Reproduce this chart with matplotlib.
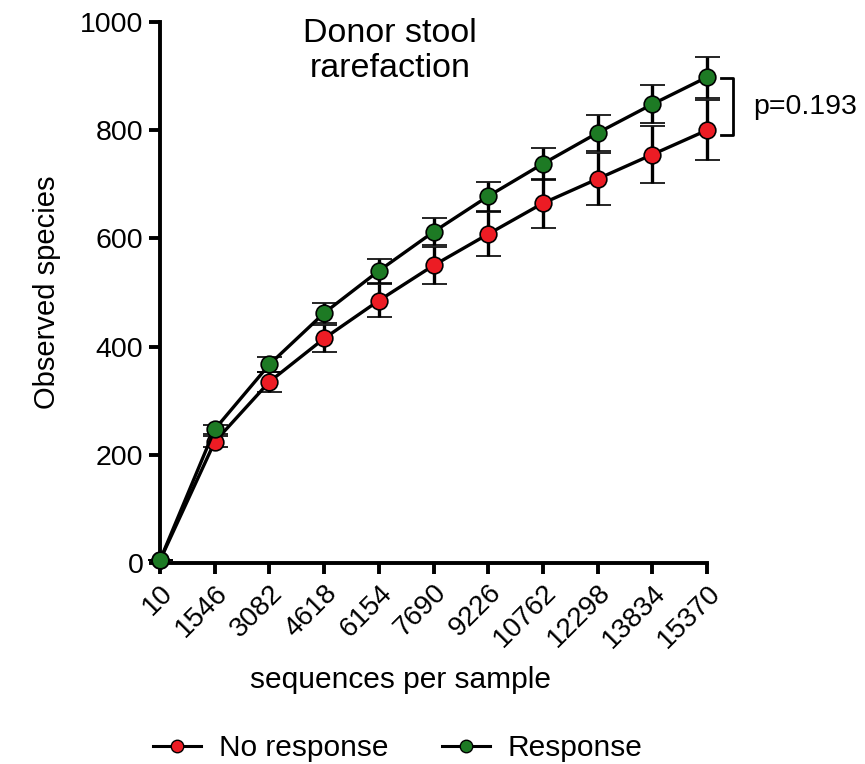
import matplotlib.pyplot as plt
from matplotlib.lines import Line2D

plt.rcParams["font.family"] = ["Liberation Sans", "DejaVu Sans"]

depths = ["10", "1546", "3082", "4618", "6154", "7690", "9226", "10762", "12298", "13834", "15370"]

no_response = [5, 224, 335, 415, 485, 550, 608, 665, 710, 755, 800]
no_response_err = [0, 10, 18, 25, 30, 35, 40, 45, 48, 52, 56]

response = [5, 247, 367, 462, 540, 612, 678, 738, 795, 848, 898]
response_err = [0, 8, 14, 18, 22, 25, 27, 30, 33, 35, 38]

RED = "#ec1c24"
GREEN = "#1d7a24"

fig = plt.figure(figsize=(8.65, 7.64), dpi=100)
ax = fig.add_axes([160 / 865, 1 - 563 / 764, 547 / 865, 541 / 764])

x = list(range(len(depths)))
for vals, errs, color in [(no_response, no_response_err, RED), (response, response_err, GREEN)]:
    ax.errorbar(
        x, vals, yerr=errs, color="black", lw=2.4, elinewidth=2.4, capsize=9, capthick=2.4,
        marker="o", markersize=12, markerfacecolor=color, markeredgecolor="black",
        markeredgewidth=1.2, clip_on=False, zorder=3,
    )

ax.set_xlim(0, 10)
ax.set_ylim(0, 1000)
ax.set_yticks([0, 200, 400, 600, 800, 1000])
ax.set_xticks(x)
ax.set_xticklabels(depths, rotation=45, ha="right", rotation_mode="anchor")

for side in ("top", "right"):
    ax.spines[side].set_visible(False)
for side in ("left", "bottom"):
    ax.spines[side].set_linewidth(2.8)
ax.tick_params(width=2.8, length=8, labelsize=20.5, colors="black", pad=4)
for lbl in ax.get_xticklabels():
    lbl.set_fontsize(20)

ax.set_ylabel("Observed species", fontsize=21, labelpad=14)
ax.text(400 / 865, 1 - 680 / 764, "sequences per sample", transform=fig.transFigure,
        ha="center", va="center", fontsize=21.5)

ax.text(390 / 865, 1 - 18 / 764, "Donor stool\nrarefaction", transform=fig.transFigure,
        ha="center", va="top", fontsize=24.5, linespacing=1.18)

# significance bracket between the two curves at the last depth
ax.plot([10.25, 10.47, 10.47, 10.25], [896, 896, 791, 791], color="black", lw=2, clip_on=False)
ax.text(10.85, 843, "p=0.193", fontsize=20.5, va="center", ha="left", clip_on=False)

handles = [
    Line2D([], [], color="black", lw=2.2, marker="o", markersize=9, markerfacecolor=RED, markeredgecolor="black"),
    Line2D([], [], color="black", lw=2.2, marker="o", markersize=9, markerfacecolor=GREEN, markeredgecolor="black"),
]
fig.legend(handles, ["No response", "Response"], loc="center", bbox_to_anchor=(398 / 865, 1 - 748 / 764),
           ncol=2, frameon=False, fontsize=21.5, handlelength=1.6, columnspacing=1.8, handletextpad=0.6,
           borderpad=0, borderaxespad=0)

fig.savefig("out.png", dpi=100, facecolor="white")
